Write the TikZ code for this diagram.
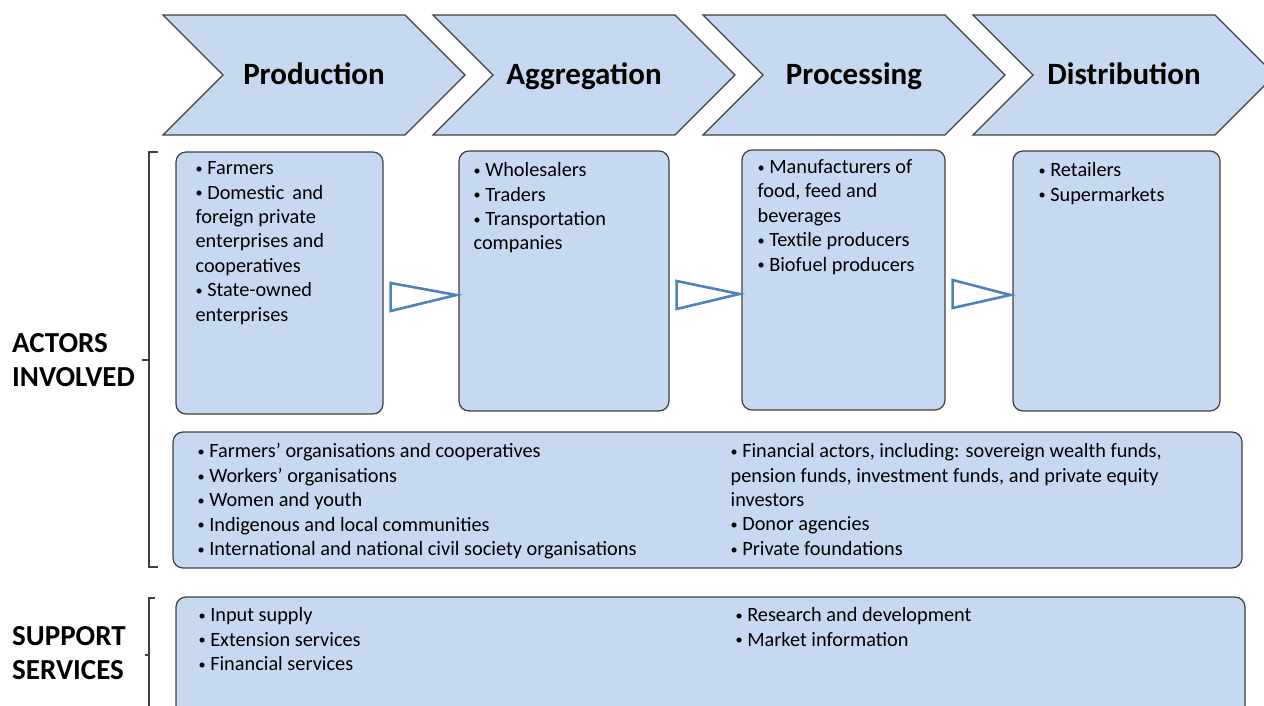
\documentclass[tikz,border=0pt]{standalone}
\usepackage{fontspec}
\setmainfont{Carlito}
\usetikzlibrary{shapes.symbols,calc,positioning}
\definecolor{paleblue}{RGB}{198,217,241}
\definecolor{edgegray}{RGB}{64,64,64}
\definecolor{flowblue}{RGB}{79,129,189}
\newcommand{\blt}{\raisebox{0.12ex}{\scalebox{0.7}{•}}\ }

\begin{document}
\begin{tikzpicture}[x=1pt, y=-1pt,
  stage/.style={signal, signal from=west, signal to=east, signal pointer angle=90, draw=edgegray, line width=1.2pt, fill=paleblue, minimum width=302pt, minimum height=120pt, inner sep=0pt, text height=23pt, text depth=3pt, font=\fontsize{31}{37}\selectfont\bfseries},
  actbox/.style={rectangle, draw=edgegray, line width=1.2pt, fill=paleblue, rounded corners=10pt},
  items/.style={anchor=north west, align=left, inner sep=0pt, font=\fontsize{20.3}{24.4}\selectfont},
  side/.style={anchor=west, align=left, inner sep=0pt, font=\fontsize{29}{34}\selectfont\bfseries},
  flow/.style={draw=flowblue, line width=2.6pt, line join=miter},
  brace/.style={draw=edgegray, line width=1.1pt}
]
\useasboundingbox (0,0) rectangle (1264,706);
\clip (0,0) rectangle (1264,706);

% value chain stages
\node[stage] (prod) at (314,75)  {Production};
\node[stage] (aggr) at (584,75)  {Aggregation};
\node[stage] (proc) at (854,75)  {Processing};
\node[stage] (dist) at (1124,75) {Distribution};

% actor boxes
\node[actbox, minimum width=207pt, minimum height=262pt] (b1) at (279.5,283) {};
\node[actbox, minimum width=210pt, minimum height=260pt] (b2) at (564,281)   {};
\node[actbox, minimum width=203pt, minimum height=260pt] (b3) at (843.5,280) {};
\node[actbox, minimum width=207pt, minimum height=260pt] (b4) at (1116.5,281) {};
\node[actbox, minimum width=1069pt, minimum height=136pt] (wide) at (707.5,500) {};
\node[actbox, minimum width=1069pt, minimum height=123pt] (supp) at (710.5,658.5) {};

\node[items] (t1) at ($(b1.north west)+(20,10)$) {\blt Farmers\\\blt Domestic\, and\\foreign private\\enterprises and\\cooperatives\\\blt State-owned\\enterprises};
\node[items] (t2) at ($(b2.north west)+(15,12)$) {\blt Wholesalers\\\blt Traders\\\blt Transportation\\companies};
\node[items] (t3) at ($(b3.north west)+(16,10)$) {\blt Manufacturers of\\food, feed and\\beverages\\\blt Textile producers\\\blt Biofuel producers};
\node[items] (t4) at ($(b4.north west)+(26,12)$) {\blt Retailers\\\blt Supermarkets};
\node[items] (t5) at ($(wide.north west)+(25,12)$) {\blt Farmers’ organisations and cooperatives\\\blt Workers’ organisations\\\blt Women and youth\\\blt Indigenous and local communities\\\blt International and national civil society organisations};
\node[items] (t6) at ($(wide.north west)+(558,12)$) {\blt Financial actors, including: sovereign wealth funds,\\pension funds, investment funds, and private equity\\investors\\\blt Donor agencies\\\blt Private foundations};
\node[items] (t7) at ($(supp.north west)+(23,11)$) {\blt Input supply\\\blt Extension services\\\blt Financial services};
\node[items] (t8) at ($(supp.north west)+(560,11)$) {\blt Research and development\\\blt Market information};

% flow markers between the actor boxes
\foreach \a/\b in {b1/b2,b2/b3,b3/b4}
  \draw[flow] ($(\a.east)+(7,0)$) -- ($(\b.west)+(-2,14)$) -- ($(\a.east)+(7,28)$) -- cycle;

% side labels and brackets
\node[side] (actors) at (12,360) {ACTORS\\INVOLVED};
\node[side] (support) at (12,653) {SUPPORT\\SERVICES};
\draw[brace] (158,152) -- (149,152) -- (149,567) -- (158,567);
\draw[brace] (149,360) -- (142,360);
\draw[brace] (155,598) -- (149,598) -- (149,720);
\draw[brace] (149,655) -- (145,655);
\end{tikzpicture}
\end{document}
